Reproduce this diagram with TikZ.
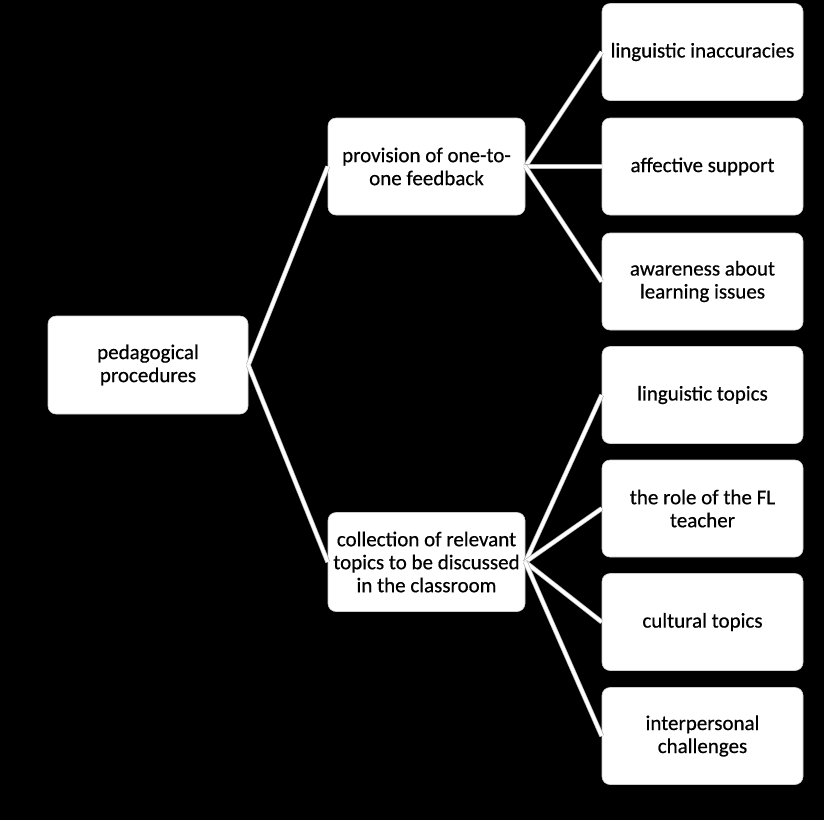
\documentclass[tikz,border=0pt]{standalone}
\usepackage{fontspec}
\setmainfont{Carlito}[FakeBold=0.5]
\begin{document}
\begin{tikzpicture}[x=1pt,y=-1pt,
  box/.style={draw=gray!40, line width=0.6pt, fill=white, rounded corners=8pt,
    minimum width=199pt, minimum height=97pt, align=center, inner sep=2pt,
    font=\fontsize{21}{23}\selectfont},
  link/.style={draw=gray!60, double=white, double distance=3.4pt, line width=0.7pt}]
\fill[black] (0,0) rectangle (824,820);
\useasboundingbox (0,0) rectangle (824,820);
\node[box, minimum width=200pt, minimum height=98pt] (root) at (148,365) {pedagogical\\procedures};
\node[box, minimum width=197pt] (m1) at (426.5,166.5) {provision of one-to-\\one feedback};
\node[box, minimum width=197pt, minimum height=99pt] (m2) at (426.5,562) {collection of relevant\\topics to be discussed\\in the classroom};
\node[box, minimum width=201pt] (l1) at (702.5,52) {linguistic inaccuracies};
\node[box, minimum width=201pt] (l2) at (702.5,166.5) {affective support};
\node[box, minimum width=201pt] (l3) at (702.5,281.5) {awareness about\\learning issues};
\node[box, minimum width=201pt] (l4) at (702.5,395) {linguistic topics};
\node[box, minimum width=201pt] (l5) at (702.5,508.5) {the role of the FL\\teacher};
\node[box, minimum width=201pt] (l6) at (702.5,622) {cultural topics};
\node[box, minimum width=201pt] (l7) at (702.5,736) {interpersonal\\challenges};
\draw[link] (root.east) -- (m1.west);
\draw[link] (root.east) -- (m2.west);
\foreach \t in {l1,l2,l3} \draw[link] (m1.east) -- (\t.west);
\foreach \t in {l4,l5,l6,l7} \draw[link] (m2.east) -- (\t.west);
\end{tikzpicture}
\end{document}
